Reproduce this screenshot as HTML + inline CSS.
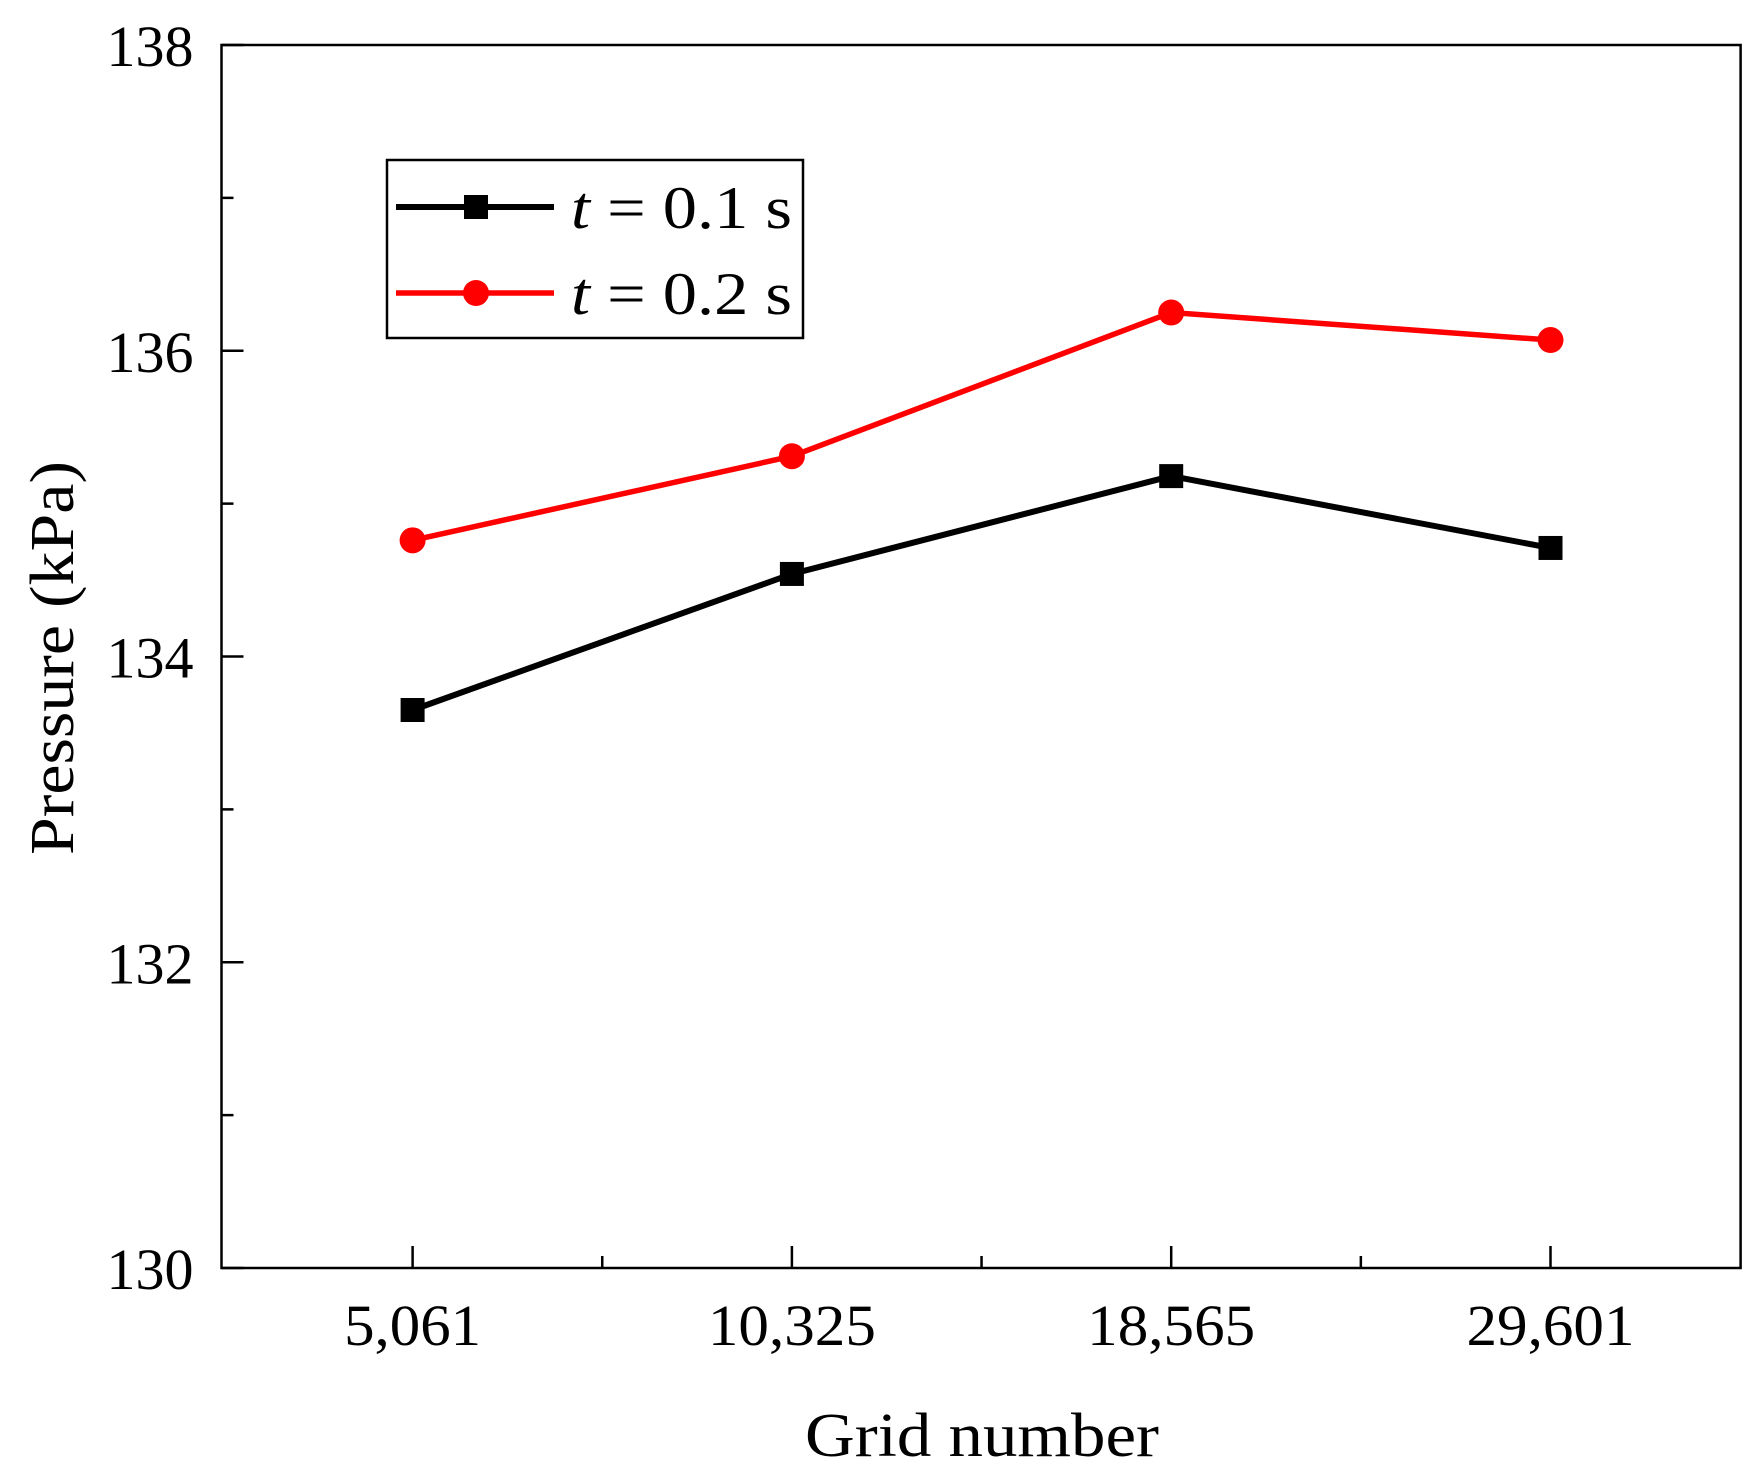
<!DOCTYPE html>
<html><head><meta charset="utf-8"><style>
html,body{margin:0;padding:0;background:#fff}
svg{display:block;font-family:"Liberation Serif",serif}
</style></head><body>
<svg id="chart" width="1763" height="1481" viewBox="0 0 1763 1481" xmlns="http://www.w3.org/2000/svg">
<rect width="1763" height="1481" fill="#fff"/>
<g id="axes"></g>
<g id="series"></g>
<g>
<rect x="387" y="160" width="416" height="178" fill="#fff" stroke="#000" stroke-width="2.5"/>
<g>
<line x1="396" y1="207" x2="554" y2="207" stroke="#000" stroke-width="6"/>
<rect x="464" y="195" width="24" height="24" fill="#000"/>
<text x="571" y="228" font-size="60" textLength="221" lengthAdjust="spacingAndGlyphs"><tspan font-style="italic">t</tspan> = 0.1 s</text>
</g>
<g>
<line x1="396" y1="293" x2="554" y2="293" stroke="#f00" stroke-width="5.5"/>
<circle cx="476" cy="293" r="13" fill="#f00"/>
<text x="571" y="314" font-size="60" textLength="221" lengthAdjust="spacingAndGlyphs"><tspan font-style="italic">t</tspan> = 0.2 s</text>
</g>
</g>
<text x="805" y="1456" font-size="62" textLength="354" lengthAdjust="spacingAndGlyphs">Grid number</text>
<text x="-197" y="0" font-size="62" textLength="394" lengthAdjust="spacingAndGlyphs" transform="translate(73,658) rotate(-90)">Pressure (kPa)</text>
</svg>
<script>
const categories = ["5,061","10,325","18,565","29,601"];
const seriesT01 = [133.65,134.54,135.18,134.71];
const seriesT02 = [134.76,135.31,136.25,136.07];
const yTicks = [130,132,134,136,138];
const yMinorTicks = [131,133,135,137];

const L=221.5,R=1740.6,T=45,B=1268,yMin=130,yMax=138;
const xPos=i=>412.6+i*379.3;
const yPos=v=>B-(v-yMin)/(yMax-yMin)*(B-T);
const NS="http://www.w3.org/2000/svg";
function mk(tag,attrs,parent){const e=document.createElementNS(NS,tag);for(const k in attrs)e.setAttribute(k,attrs[k]);parent.appendChild(e);return e;}
const ax=document.getElementById('axes');
const frame=mk('rect',{x:L,y:T,width:R-L,height:B-T,fill:'none',stroke:'#000','stroke-width':2.5},ax);


yTicks.forEach(v=>{
  const y=yPos(v);
  const t=mk('line',{x1:L,x2:L+22,y1:y,y2:y,stroke:'#000','stroke-width':2.5},ax);
  
  
  const lb=mk('text',{x:L-28-87,y:y+21,'font-size':58,textLength:87,lengthAdjust:'spacingAndGlyphs'},ax);
  lb.textContent=v;
  
  
});
yMinorTicks.forEach(v=>{
  const y=yPos(v);
  const t=mk('line',{x1:L,x2:L+12,y1:y,y2:y,stroke:'#000','stroke-width':2.5},ax);
  
  
});
categories.forEach((c,i)=>{
  const x=xPos(i);
  const t=mk('line',{x1:x,x2:x,y1:B,y2:B-22,stroke:'#000','stroke-width':2.5},ax);
  
  
  const w=c.length>5?168:137;
  const lb=mk('text',{x:x-w/2,y:1345,'font-size':58,textLength:w,lengthAdjust:'spacingAndGlyphs'},ax);
  lb.textContent=c;
  
  
  if(i<categories.length-1){
    const m=mk('line',{x1:x+189.65,x2:x+189.65,y1:B,y2:B-12,stroke:'#000','stroke-width':2.5},ax);
    
    
  }
});
const sg=document.getElementById('series');
function drawSeries(vals,color,shape,name){
  const g=mk('g',{},sg);
  
  
  const pts=vals.map((v,i)=>xPos(i)+','+yPos(v)).join(' ');
  const pl=mk('polyline',{points:pts,fill:'none',stroke:color,'stroke-width':shape==='square'?6:5.5},g);
  
  
  vals.forEach((v,i)=>{
    let m;
    if(shape==='square') m=mk('rect',{x:xPos(i)-12,y:yPos(v)-12,width:24,height:24,fill:color},g);
    else m=mk('circle',{cx:xPos(i),cy:yPos(v),r:13,fill:color},g);
    
    
  });
}
drawSeries(seriesT01,'#000','square','series-t01');
drawSeries(seriesT02,'#f00','circle','series-t02');
</script>
</body></html>
